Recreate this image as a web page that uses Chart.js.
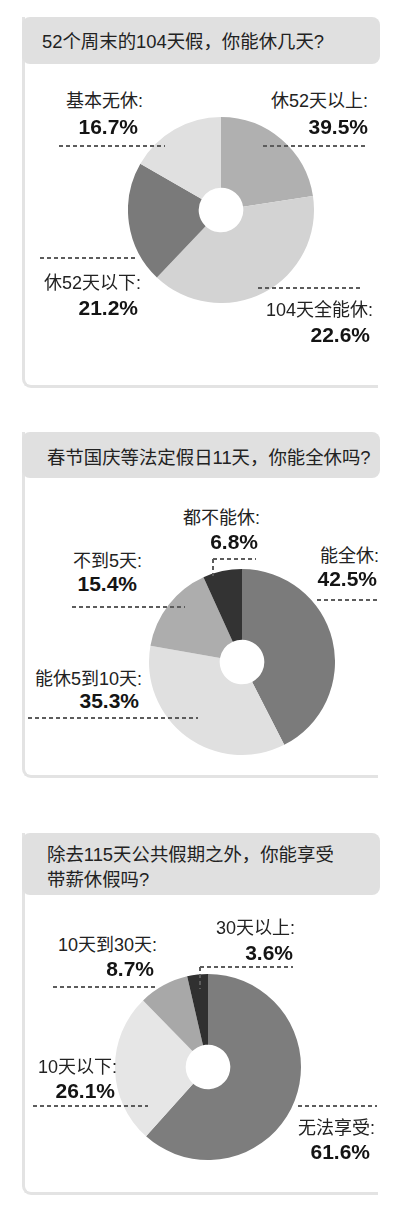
<!DOCTYPE html>
<html>
<head>
<meta charset="utf-8">
<script src="https://cdn.jsdelivr.net/npm/chart.js@4"></script>
<style>
  html, body { margin:0; padding:0; background:#fff; }
  body { width:400px; height:1221px; position:relative; overflow:hidden;
         font-family: "Liberation Sans", Arial, "Noto Sans CJK SC", sans-serif; }
  .card { position:absolute; left:22px; width:356px; box-sizing:border-box;
          border-left:3px solid #e3e3e3; border-bottom:3px solid #e3e3e3;
          border-bottom-left-radius:9px; }
  .head { position:absolute; left:22px; width:358px; background:#e0e0e0; border-radius:8px; }
  .title { position:absolute; font-size:18.4px; color:#222; line-height:24px; white-space:nowrap; }
  .lbl { position:absolute; white-space:nowrap; text-align:right; }
  .name { font-size:18px; color:#222; line-height:24px; height:24px; }
  .val { font-size:21px; font-weight:bold; color:#141414; line-height:24px; height:24px;
         font-family: "Liberation Sans", Arial, sans-serif; }
  .dash { position:absolute; height:2px;
          background: repeating-linear-gradient(90deg, #5c5c5c 0 4px, transparent 4px 7px); z-index:5; }
  .vdash { position:absolute; width:2px;
          background: repeating-linear-gradient(180deg, #5c5c5c 0 4px, transparent 4px 7px); z-index:5; }
  .pie { position:absolute; }
</style>
</head>
<body>
<script>
// ---- Data ----
const q1Title = ['52个周末的104天假，你能休几天?'];
const q1Categories = ['104天全能休', '休52天以上', '休52天以下', '基本无休'];
const q1Values = [22.6, 39.5, 21.2, 16.7];

const q2Title = ['春节国庆等法定假日11天，你能全休吗?'];
const q2Categories = ['能全休', '能休5到10天', '不到5天', '都不能休'];
const q2Values = [42.5, 35.3, 15.4, 6.8];

const q3Title = ['除去115天公共假期之外，你能享受', '带薪休假吗?'];
const q3Categories = ['无法享受', '10天以下', '10天到30天', '30天以上'];
const q3Values = [61.6, 26.1, 8.7, 3.6];

// ---- Layout / style ----
const panels = [
  { title:q1Title, cats:q1Categories, vals:q1Values,
    colors:['#b0b0b0','#d3d3d3','#7a7a7a','#e0e0e0'],
    card:{top:17, bottom:388}, head:{top:17, h:47}, titleX:42, titleY:[42],
    pie:{cx:221, cy:210, r:93},
    labels:[ {r:373, ny:310, vr:370, vy:335},
             {r:368, ny:101, vr:368, vy:127},
             {r:141, ny:283, vr:138, vy:308},
             {r:143, ny:101, vr:138, vy:127} ],
    dashes:[ [59,165,146], [263,368,146], [40,138,258], [258,363,288] ],
    vdashes:[] },
  { title:q2Title, cats:q2Categories, vals:q2Values,
    colors:['#7b7b7b','#e0e0e0','#adadad','#333333'],
    card:{top:432, bottom:778}, head:{top:432, h:46}, titleX:47, titleY:[458],
    pie:{cx:242, cy:662, r:93},
    labels:[ {r:379, ny:556, vr:377, vy:579},
             {r:142, ny:679, vr:139, vy:701},
             {r:142, ny:561, vr:137, vy:584},
             {r:260, ny:518, vr:258, vy:542} ],
    dashes:[ [317,377,600], [28,198,718], [72,185,607], [213,256,559] ],
    vdashes:[ [213,559,576] ] },
  { title:q3Title, cats:q3Categories, vals:q3Values,
    colors:['#7d7d7d','#e6e6e6','#a8a8a8','#303030'],
    card:{top:833, bottom:1195}, head:{top:833, h:62}, titleX:47, titleY:[855, 880],
    pie:{cx:208, cy:1067, r:93},
    labels:[ {r:375, ny:1128, vr:370, vy:1152},
             {r:117, ny:1067, vr:115, vy:1091},
             {r:157, ny:945, vr:154, vy:969},
             {r:295, ny:928, vr:293, vy:953} ],
    dashes:[ [298,377,1106], [33,148,1106], [53,157,987], [200,293,967] ],
    vdashes:[ [200,967,989] ] }
];

function el(cls, css, text) {
  const d = document.createElement('div');
  d.className = cls;
  Object.assign(d.style, css);
  if (text !== undefined) d.textContent = text;
  document.body.appendChild(d);
  return d;
}

panels.forEach((p) => {
  el('card', { top: p.card.top + 'px', height: (p.card.bottom - p.card.top) + 'px' });
  el('head', { top: p.head.top + 'px', height: p.head.h + 'px' });
  p.title.forEach((t, i) => el('title', { left: p.titleX + 'px', top: (p.titleY[i] - 12) + 'px' }, t));

  const box = el('pie', { left: (p.pie.cx - p.pie.r) + 'px', top: (p.pie.cy - p.pie.r) + 'px',
                          width: (2 * p.pie.r) + 'px', height: (2 * p.pie.r) + 'px' });
  const cv = document.createElement('canvas');
  box.appendChild(cv);
  new Chart(cv, {
    type: 'doughnut',
    data: { labels: p.cats,
            datasets: [{ data: p.vals, backgroundColor: p.colors, borderWidth: 0, hoverOffset: 0 }] },
    options: { responsive: true, maintainAspectRatio: false, animation: false, cutout: '24%',
               layout: { padding: 0 },
               plugins: { legend: { display: false }, tooltip: { enabled: false } } }
  });

  p.cats.forEach((c, i) => {
    const L = p.labels[i];
    el('lbl name', { right: (400 - L.r) + 'px', top: (L.ny - 12) + 'px' }, c + ':');
    el('lbl val', { right: (400 - L.vr) + 'px', top: (L.vy - 12) + 'px' }, p.vals[i].toFixed(1) + '%');
  });
  p.dashes.forEach(([x1, x2, y]) => el('dash', { left: x1 + 'px', width: (x2 - x1) + 'px', top: (y - 1) + 'px' }));
  p.vdashes.forEach(([x, y1, y2]) => el('vdash', { left: (x - 1) + 'px', top: y1 + 'px', height: (y2 - y1) + 'px' }));
});
</script>
</body>
</html>
